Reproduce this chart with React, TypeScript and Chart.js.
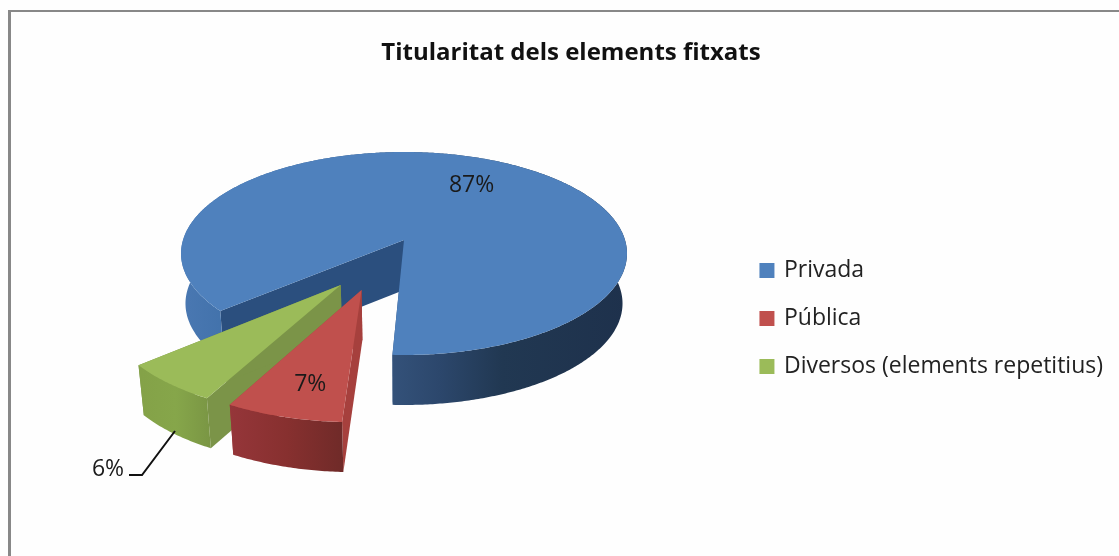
import React, { useEffect, useRef } from "react";
import { Chart, registerables } from "chart.js";

Chart.register(...registerables);

const titleText = "Titularitat dels elements fitxats";
const categories = ["Privada", "Pública", "Diversos (elements repetitius)"];
const values = [87, 7, 6];
const colors = ["#4F81BD", "#C0504D", "#9BBB59"];

const FONT = "'Open Sans', Lato, sans-serif";
const APEX = { x: 404, y: 240 };
const RX = 221, RY = 99.7, PERSP = 0.133, DEPTH = 50, SHRINK = 0.98;
const EXPLODE = [
  { x: 0, y: 0 },
  { x: -0.18, y: 0.47 },
  { x: -0.27, y: 0.426 },
];
const LABEL_NUDGE = [
  { x: 5, y: 3 },
  { x: 6, y: 2 },
];
const walls = [
  { radial: "#2B4F7E", range: [181, 627], stops: [[0, "#4A78B2"], [0.1, "#4272AB"], [0.47, "#34527A"], [0.58, "#2C476C"], [0.72, "#213852"], [1, "#1E314C"]] },
  { radial: "#A6403D", range: [227, 347], stops: [[0, "#96363A"], [0.5, "#87302F"], [1, "#6E2A28"]] },
  { radial: "#7B9448", range: [142, 210], stops: [[0, "#84A248"], [0.5, "#86A64A"], [1, "#7A9644"]] },
];

function project(X: number, Y: number) {
  const d = 1 - PERSP * Y;
  return { x: APEX.x + (RX * X) / d, y: APEX.y + (RY * Y) / d };
}
function lower(p: { x: number; y: number }) {
  return { x: APEX.x + (p.x - APEX.x) * SHRINK, y: p.y + DEPTH };
}

const pie3d = {
  id: "pie3d",
  beforeDraw(chart: any) {
    const { ctx, width, height } = chart;
    ctx.save();
    ctx.fillStyle = "#FEFEFE";
    ctx.fillRect(0, 0, width, height);
    ctx.fillStyle = "#888888";
    ctx.fillRect(8, 10, width - 8, 2);
    ctx.fillRect(8, 10, 3, height - 10);
    ctx.restore();
  },
  beforeDatasetsDraw(chart: any) {
    const { ctx } = chart;
    const arcs = chart.getDatasetMeta(0).data;
    const total = values.reduce((a, b) => a + b, 0);
    const order = [0, 2, 1];
    ctx.save();
    for (const i of order) {
      const arc = arcs[i];
      const ex = EXPLODE[i];
      const pt = (a: number, r = 1) => project(ex.x + r * Math.cos(a), ex.y + r * Math.sin(a));
      const a0 = arc.startAngle, a1 = arc.endAngle;
      const n = Math.max(4, Math.ceil((a1 - a0) / 0.01));
      const rim: { x: number; y: number }[] = [];
      for (let k = 0; k <= n; k++) rim.push(pt(a0 + ((a1 - a0) * k) / n));
      const c = pt(0, 0);
      const w = walls[i];

      // radial walls
      ctx.fillStyle = w.radial;
      for (const e of [rim[0], rim[n]]) {
        const cb = lower(c), eb = lower(e);
        ctx.beginPath();
        ctx.moveTo(c.x, c.y);
        ctx.lineTo(e.x, e.y);
        ctx.lineTo(eb.x, eb.y);
        ctx.lineTo(cb.x, cb.y);
        ctx.closePath();
        ctx.fill();
      }
      // outer wall
      const g = ctx.createLinearGradient(w.range[0], 0, w.range[1], 0);
      for (const [o, col] of w.stops) g.addColorStop(o as number, col as string);
      ctx.fillStyle = g;
      ctx.beginPath();
      rim.forEach((p, k) => (k ? ctx.lineTo(p.x, p.y) : ctx.moveTo(p.x, p.y)));
      for (let k = n; k >= 0; k--) {
        const b = lower(rim[k]);
        ctx.lineTo(b.x, b.y);
      }
      ctx.closePath();
      ctx.fill();
      // top surface
      ctx.fillStyle = colors[i];
      ctx.beginPath();
      ctx.moveTo(c.x, c.y);
      rim.forEach((p) => ctx.lineTo(p.x, p.y));
      ctx.closePath();
      ctx.fill();
    }

    // percentage labels
    ctx.fillStyle = "#1A1A1A";
    ctx.font = `23px ${FONT}`;
    ctx.textAlign = "center";
    ctx.textBaseline = "middle";
    const lab = (i: number) => `${Math.round((values[i] / total) * 100)}%`;
    [0, 1].forEach((i) => {
      const arc = arcs[i];
      const m = (arc.startAngle + arc.endAngle) / 2;
      const r = i === 0 ? 0.7 : 0.76;
      const p = project(EXPLODE[i].x + r * Math.cos(m), EXPLODE[i].y + r * Math.sin(m));
      ctx.fillText(lab(i), p.x + LABEL_NUDGE[i].x, p.y + LABEL_NUDGE[i].y);
    });
    ctx.fillText(lab(2), 108, 469);
    ctx.strokeStyle = "#111111";
    ctx.lineWidth = 2;
    ctx.beginPath();
    ctx.moveTo(129, 475);
    ctx.lineTo(142, 475);
    ctx.lineTo(175, 431);
    ctx.stroke();
    ctx.restore();
    return false;
  },
};

export default function App() {
  const ref = useRef<HTMLCanvasElement>(null);
  useEffect(() => {
    document.body.style.margin = "0";
    const chart = new Chart(ref.current as HTMLCanvasElement, {
      type: "pie",
      data: {
        labels: categories,
        datasets: [{ data: values, backgroundColor: colors, borderColor: colors, borderWidth: 4 }],
      },
      plugins: [pie3d],
      options: {
        responsive: false,
        animation: false,
        rotation: 229.4,
        layout: { padding: { left: 29, right: 6, top: 39, bottom: 0 } },
        plugins: {
          tooltip: { enabled: false },
          title: {
            display: true,
            text: titleText,
            color: "#111111",
            font: { family: FONT, size: 24, weight: "bold" },
            padding: { top: 0, bottom: 13 },
          },
          legend: {
            position: "right",
            fullSize: false,
            labels: {
              boxWidth: 11,
              boxHeight: 11,
              color: "#222222",
              padding: 25,
              font: { family: FONT, size: 23 },
            },
          },
        },
      },
    } as any);
    return () => chart.destroy();
  }, []);
  return <canvas ref={ref} width={1119} height={556} style={{ display: "block" }} />;
}
